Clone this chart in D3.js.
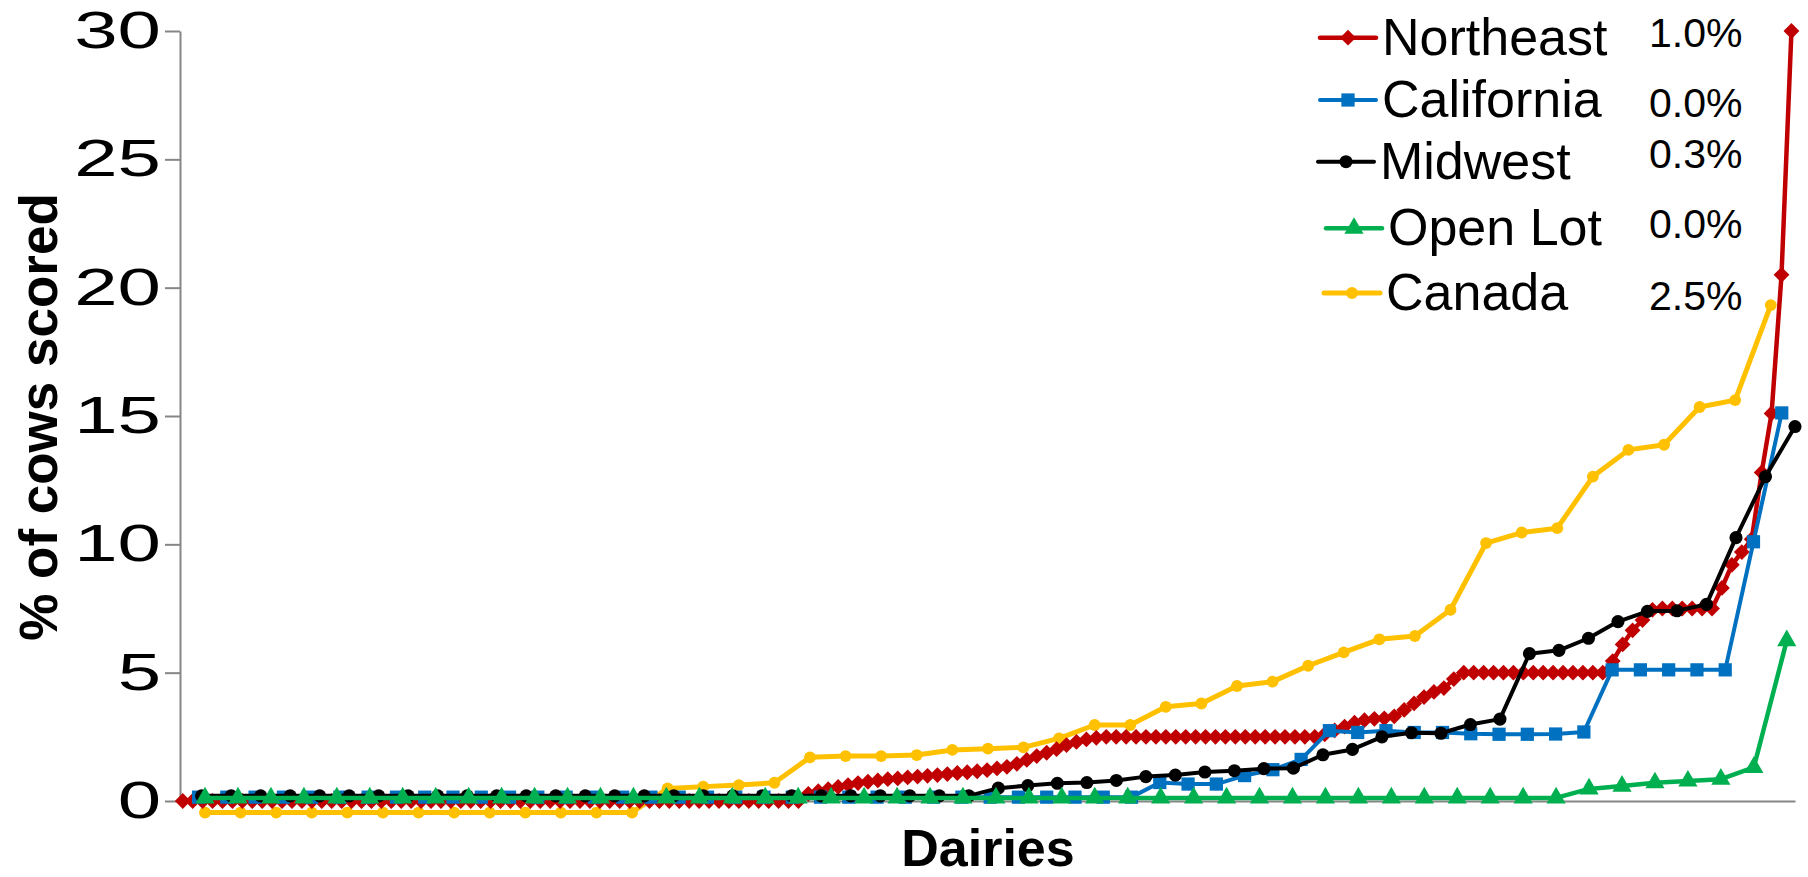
<!DOCTYPE html>
<html>
<head>
<meta charset="utf-8">
<script src="https://cdnjs.cloudflare.com/ajax/libs/d3/7.8.5/d3.min.js"></script>
<style>
  html, body { margin: 0; padding: 0; background: #fff; }
  svg { display: block; }
</style>
</head>
<body>
<div id="chart"></div>
<script>
// % of cows scored per dairy, each region sorted low -> high
const northeast = [
    0, 0, 0, 0, 0, 0, 0, 0, 0, 0, 0, 0, 0, 0, 0, 0, 0, 0, 0, 0, 0,
    0, 0, 0, 0, 0, 0, 0, 0, 0, 0, 0, 0, 0, 0, 0, 0, 0, 0, 0, 0, 0,
    0, 0, 0, 0, 0, 0, 0, 0, 0, 0, 0, 0, 0, 0, 0, 0, 0, 0, 0, 0, 0,
    0.28, 0.38, 0.46, 0.55, 0.62, 0.7, 0.75, 0.8, 0.85, 0.88, 0.92, 0.95, 0.98, 1.01, 1.05,
    1.09, 1.12, 1.16, 1.2, 1.27, 1.33, 1.45, 1.6, 1.75, 1.88, 2.02, 2.18, 2.3, 2.4, 2.46,
    2.5, 2.5, 2.5, 2.5, 2.5, 2.5, 2.5, 2.5, 2.5, 2.5, 2.5,
    2.5, 2.5, 2.5, 2.5, 2.5, 2.5, 2.5, 2.5, 2.5, 2.5, 2.5,
    2.6, 2.75, 2.9, 3.05, 3.15, 3.2, 3.22, 3.3, 3.55, 3.8, 4.05, 4.25, 4.4, 4.75,
    5, 5, 5, 5, 5, 5, 5, 5, 5, 5, 5, 5, 5, 5, 5,
    5.45, 6.1, 6.65, 7.05, 7.45,
    7.5, 7.5, 7.5, 7.5, 7.5, 7.5,
    8.3, 9.2, 9.7, 10.2, 12.8, 15.1, 20.5, 30.0
];
const california = [
    0.15, 0.15, 0.15, 0.15, 0.15, 0.15, 0.15, 0.15, 0.15, 0.15, 0.15, 0.15, 0.15, 0.15, 0.15, 0.15, 0.15,
    0.15, 0.15, 0.15, 0.15, 0.15, 0.15, 0.15, 0.15, 0.15, 0.15, 0.15, 0.15, 0.15, 0.15, 0.15, 0.15, 0.15,
    0.72, 0.66, 0.66, 0.99, 1.22, 1.62, 2.74, 2.67, 2.74, 2.67, 2.67, 2.62, 2.6, 2.6, 2.61, 2.69,
    5.11, 5.11, 5.11, 5.11, 5.11, 10.1, 15.12
];
const midwest = [
    0.2, 0.2, 0.2, 0.2, 0.2, 0.2, 0.2, 0.2, 0.2, 0.2, 0.2, 0.2, 0.2, 0.2,
    0.2, 0.2, 0.2, 0.2, 0.2, 0.2, 0.2, 0.2, 0.2, 0.2, 0.2, 0.2, 0.2,
    0.5, 0.6, 0.69, 0.72, 0.8, 0.95, 1.01, 1.13, 1.18, 1.26, 1.28, 1.8, 2.01, 2.5,
    2.66, 2.64, 2.98, 3.19, 5.74, 5.87, 6.34, 6.99, 7.39, 7.41, 7.66, 10.26, 12.64, 14.59
];
const openLot = [
    0.12, 0.12, 0.12, 0.12, 0.12, 0.12, 0.12, 0.12, 0.12, 0.12, 0.12, 0.12, 0.12, 0.12,
    0.12, 0.12, 0.12, 0.12, 0.12, 0.12, 0.12, 0.12, 0.12, 0.12, 0.12, 0.12, 0.12, 0.12,
    0.12, 0.12, 0.12, 0.12, 0.12, 0.12, 0.12, 0.12, 0.12, 0.12, 0.12, 0.12, 0.12, 0.12,
    0.47, 0.58, 0.71, 0.78, 0.85, 1.31, 6.25
];
const canada = [
    -0.45, -0.45, -0.45, -0.45, -0.45, -0.45, -0.45, -0.45, -0.45, -0.45, -0.45, -0.45, -0.45,
    0.49, 0.56, 0.62, 0.71, 1.7, 1.75, 1.75, 1.79, 1.99, 2.04, 2.09, 2.44, 2.96, 2.96,
    3.67, 3.8, 4.48, 4.65, 5.27, 5.79, 6.3, 6.43, 7.45, 10.05, 10.46, 10.63, 12.64,
    13.68, 13.88, 15.35, 15.62, 19.32
];

const regionNames = ["Northeast", "California", "Midwest", "Open Lot", "Canada"];
const regionPercents = ["1.0%", "0.0%", "0.3%", "0.0%", "2.5%"];
// rank of a region's first / last dairy on the shared Dairies axis (0-100)
const rankStart = [0.17, 1.15, 1.34, 1.55, 1.55];
const rankEnd = [99.78, 99.18, 100, 99.49, 98.5];
const yTicks = [0, 5, 10, 15, 20, 25, 30];

const FONT = "Arial, 'Liberation Sans', sans-serif";

const series = [
    {values: northeast, color: "#C00000", shape: "diamond", size: 125, width: 4.5},
    {values: california, color: "#0070C0", shape: "square", size: 175, width: 4},
    {values: midwest, color: "#000000", shape: "circle", size: 135, width: 4},
    {values: openLot, color: "#00B050", shape: "triangle", size: 160, width: 4.5},
    {values: canada, color: "#FFC000", shape: "circle", size: 110, width: 5}
].map((s, i) => ({...s, name: regionNames[i], pct: regionPercents[i], start: rankStart[i], end: rankEnd[i]}));

// Canada sits behind the rest, then the others in legend order
const drawOrder = [4, 0, 1, 2, 3];

// legend layout (hand placed boxes in the original)
const legendLineY = [37.7, 100, 161.7, 228.3, 293];
const legendLineX = [1320, 1320, 1318, 1326, 1324];
const legendPctY = [46.7, 117.3, 168.3, 238.3, 310];

const config = {
    width: 1808,
    height: 877,
    margin: {top: 31, right: 13, bottom: 76, left: 180}
};

function symbolPath(s) {
    if (s.shape === "diamond") return d3.symbol(d3.symbolSquare, s.size)();
    if (s.shape === "square") return d3.symbol(d3.symbolSquare, s.size)();
    if (s.shape === "triangle") return d3.symbol(d3.symbolTriangle, s.size)();
    return d3.symbol(d3.symbolCircle, s.size)();
}

const svg = d3.select("#chart")
    .append("svg")
    .attr("width", config.width)
    .attr("height", config.height)
    .attr("font-family", FONT);

const x = d3.scaleLinear()
    .domain([0, 100])
    .range([config.margin.left, config.width - config.margin.right]);

const y = d3.scaleLinear()
    .domain([0, 30])
    .range([config.height - config.margin.bottom, config.margin.top]);

// axes
const yAxis = d3.axisLeft(y)
    .tickValues(yTicks)
    .tickSize(15)
    .tickSizeOuter(0)
    .tickPadding(4);

const gy = svg.append("g")
    .attr("transform", `translate(${config.margin.left},0)`)
    .call(yAxis)
    .attr("font-family", FONT)
    .attr("font-size", 52);
gy.select(".domain").attr("stroke", "#868686").attr("stroke-width", 2);
gy.selectAll(".tick line").attr("stroke", "#868686").attr("stroke-width", 2);
// the original tick font is a wide one: stretch the labels sideways
gy.selectAll(".tick text")
    .attr("fill", "#000")
    .attr("x", 0)
    .attr("transform", "translate(-19,0) scale(1.5,1)");

const xAxis = d3.axisBottom(x).tickValues([]).tickSizeOuter(0);
const gx = svg.append("g")
    .attr("transform", `translate(0,${y(0)})`)
    .call(xAxis);
gx.select(".domain").attr("stroke", "#868686").attr("stroke-width", 2);

// axis titles
svg.append("text")
    .attr("transform", `translate(57,${(y(0) + y(30)) / 2 + 1}) rotate(-90)`)
    .attr("text-anchor", "middle")
    .attr("font-weight", "bold")
    .attr("font-size", 53)
    .text("% of cows scored");

svg.append("text")
    .attr("x", 988)
    .attr("y", 866)
    .attr("text-anchor", "middle")
    .attr("font-weight", "bold")
    .attr("font-size", 52)
    .text("Dairies");

// series
const line = d3.line()
    .x(d => x(d.rank))
    .y(d => y(d.value));

drawOrder.forEach(k => {
    const s = series[k];
    const n = s.values.length;
    const pts = s.values.map((v, i) => ({rank: s.start + i * (s.end - s.start) / (n - 1), value: v}));
    const g = svg.append("g").attr("class", "series");

    g.append("path")
        .datum(pts)
        .attr("fill", "none")
        .attr("stroke", s.color)
        .attr("stroke-width", s.width)
        .attr("stroke-linejoin", "round")
        .attr("d", line);

    g.selectAll(".mark")
        .data(pts)
        .join("path")
        .attr("class", "mark")
        .attr("fill", s.color)
        .attr("transform", d => `translate(${x(d.rank)},${y(d.value)})` + (s.shape === "diamond" ? " rotate(45)" : ""))
        .attr("d", symbolPath(s));
});

// legend
const legend = svg.append("g").attr("class", "legend");
series.forEach((s, i) => {
    const ly = legendLineY[i], lx = legendLineX[i];
    legend.append("line")
        .attr("x1", lx).attr("x2", lx + 56)
        .attr("y1", ly).attr("y2", ly)
        .attr("stroke", s.color)
        .attr("stroke-width", s.width)
        .attr("stroke-linecap", "round");
    legend.append("path")
        .attr("fill", s.color)
        .attr("transform", `translate(${lx + 28},${ly})` + (s.shape === "diamond" ? " rotate(45)" : ""))
        .attr("d", symbolPath(s));
    legend.append("text")
        .attr("x", lx + 62)
        .attr("y", ly + 17)
        .attr("font-size", 52)
        .text(s.name);
    legend.append("text")
        .attr("x", 1649)
        .attr("y", legendPctY[i])
        .attr("font-size", 41)
        .text(s.pct);
});
</script>
</body>
</html>
